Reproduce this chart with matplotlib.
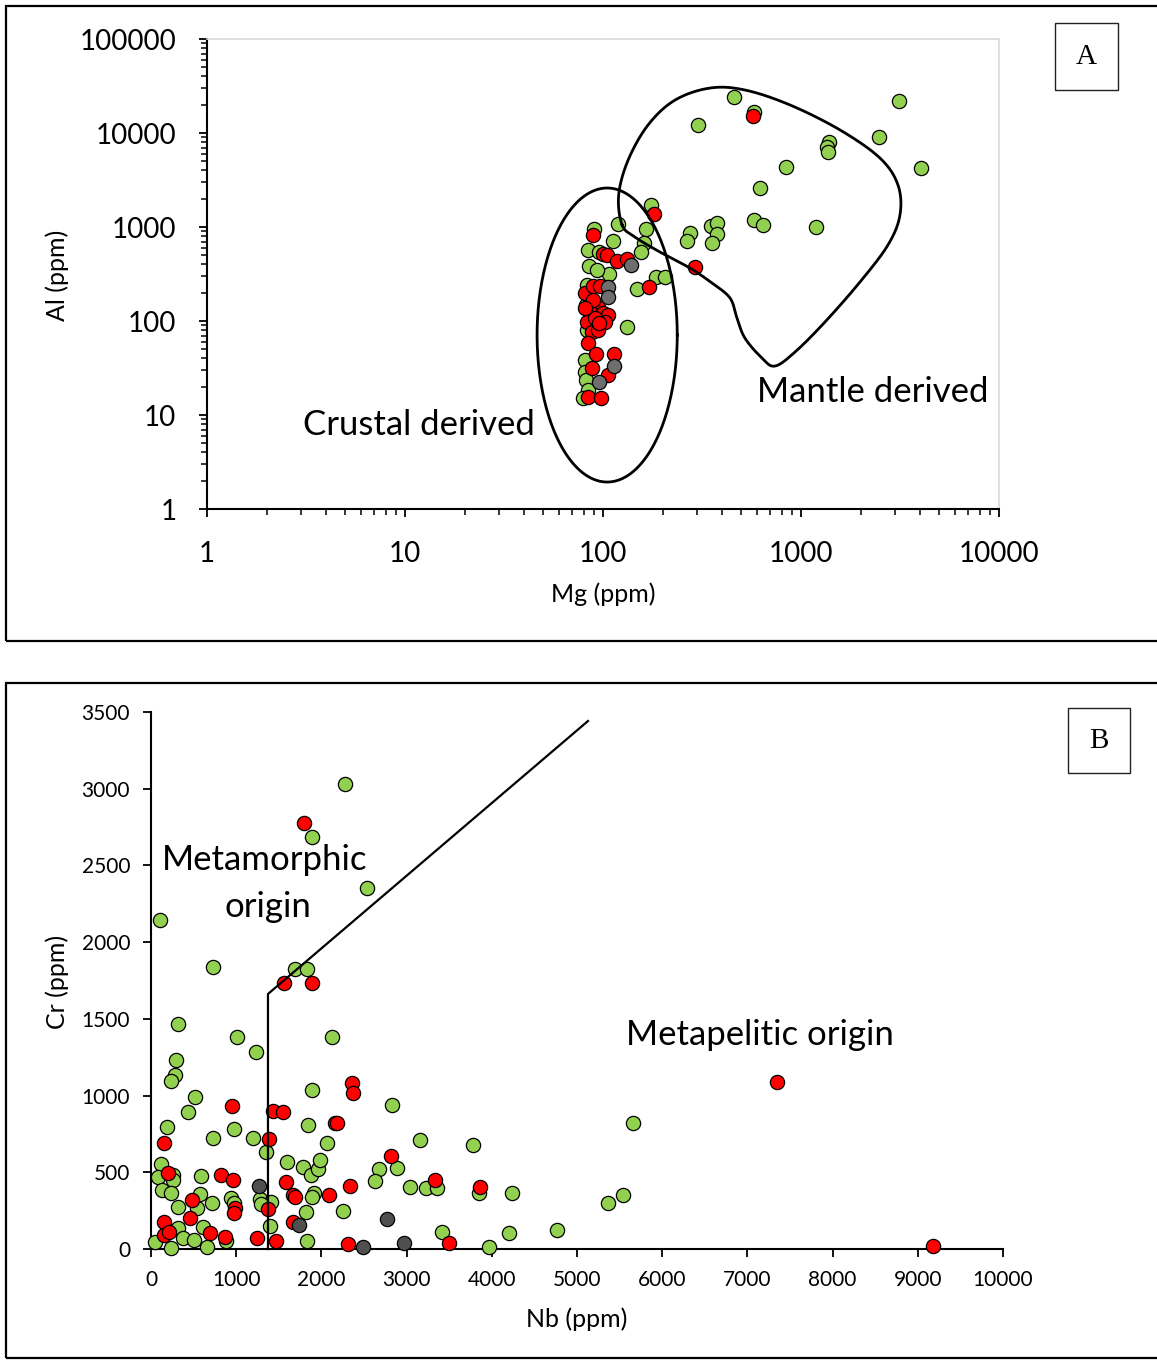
import numpy as np
import matplotlib
matplotlib.use("Agg")
import matplotlib.pyplot as plt
from matplotlib.patches import Rectangle
from matplotlib.ticker import LogLocator, NullFormatter, FixedLocator, FixedFormatter

plt.rcParams['font.family'] = ['Lato', 'DejaVu Sans']

GREEN = '#92d050'
RED = '#ff0000'
GREY_A = '#6e6e6e'
GREY_B = '#4f4f4f'

# ---------------- Panel A: Mg vs Al (ppm), log-log ----------------
a_green_mg = [460, 579, 302, 3126, 2477, 1378, 1350, 1364, 4036, 840, 619, 579, 643,
              1186, 174, 119, 164, 112, 161, 156, 275, 266, 351, 376, 376, 355, 107,
              185, 206, 148, 132, 90, 84, 95.5, 85, 93, 83, 81, 81, 82, 84, 79, 83, 82]
a_green_al = [24150, 16700, 12170, 21900, 9070, 7990, 7060, 6290, 4245, 4350, 2590, 1198,
              1050, 1000, 1714, 1076, 952, 710, 676, 542, 863, 710, 1025, 1103, 843, 676,
              316, 294, 294, 219, 86, 952, 570, 542, 385, 348, 240, 38.5, 28.7, 23.5,
              18.5, 15.2, 80, 147]

a_red_mg = [575, 181, 89, 100, 105, 118, 132, 292, 171, 81, 89, 96.5, 94, 86, 100, 106,
            102, 83, 88, 94, 84, 92, 114, 106, 88, 84, 98, 91, 96, 89, 81]
a_red_al = [15160, 1370, 822, 516, 507, 435, 457, 375, 230, 199, 235, 235, 141, 124, 121,
            116, 98, 98, 76, 80, 58, 44.6, 44.6, 26.6, 31.6, 15.5, 15.2, 108, 95, 167, 137]

a_grey_mg = [138, 106, 106, 114, 95.5]
a_grey_al = [394, 230, 180, 33, 22.4]

# Mantle-derived field outline (Mg, Al in ppm)
mantle_mg = [125, 120, 134, 169, 231, 347, 521, 880, 1573, 2506, 3090, 3162, 2750, 1986,
             1322, 933, 739, 635, 521, 475, 438, 355, 275, 194, 145]
mantle_al = [1050, 2190, 5160, 12200, 22400, 30100, 28700, 19900, 10800, 5420, 2800,
             1342, 644, 260, 97.6, 46.8, 33.2, 40.4, 65.9, 108, 176, 254, 366, 542, 783]

# Crustal-derived field: ellipse in log space
crust_center = (105, 71)
crust_half_decades = (0.354, 1.564)

# ---------------- Panel B: Nb vs Cr (ppm) ----------------
b_green_nb = [2277, 1890, 2535, 106, 728, 1690, 1831, 317, 1009, 1232, 2124, 293, 282, 235,
              1890, 2829, 516, 434, 1843, 188, 2066, 3157, 3779, 728, 974, 1197, 1350, 1596,
              1784, 1878, 1960, 1984, 2676, 2887, 2629, 3040, 3228, 3357, 3850, 4237, 117,
              82, 258, 258, 587, 129, 235, 575, 716, 939, 974, 1279, 1408, 1291, 1913, 1890,
              1819, 2253, 317, 540, 317, 610, 880, 47, 235, 376, 505, 657, 1397, 1831, 3415,
              3967, 4202, 4765, 5657, 5364, 5540]
b_green_cr = [3031, 2685, 2353, 2144, 1838, 1825, 1825, 1467, 1382, 1284, 1382, 1232, 1134,
              1095, 1036, 939, 991, 893, 808, 795, 691, 710, 678, 724, 782, 724, 632, 567,
              534, 482, 521, 580, 521, 528, 443, 404, 398, 398, 365, 365, 554, 469, 482, 450,
              476, 385, 365, 358, 300, 332, 300, 326, 306, 293, 365, 339, 241, 248, 274, 267,
              137, 143, 52, 46, 7, 72, 59, 13, 150, 52, 111, 13, 104, 124, 821, 300, 352]

b_red_nb = [1796, 1561, 1890, 2359, 2371, 951, 1432, 1549, 2160, 2183, 153, 1385, 2817, 3333,
            3861, 200, 822, 962, 481, 986, 974, 1373, 1584, 1667, 1690, 2089, 2336, 458, 153,
            153, 211, 692, 869, 1667, 1244, 1467, 3498, 2312, 7347, 9178]
b_red_cr = [2777, 1734, 1734, 1082, 1017, 932, 900, 893, 821, 821, 691, 717, 606, 450, 404,
            495, 482, 450, 319, 267, 235, 261, 437, 352, 339, 352, 411, 202, 176, 91, 111, 104,
            78, 176, 72, 52, 39, 33, 1088, 20]

b_grey_nb = [1268, 1737, 2770, 2488, 2969]
b_grey_cr = [411, 156, 196, 13, 39]

# Metamorphic / metapelitic boundary
bound_nb = [1373, 1373, 5129]
bound_cr = [0, 1662, 3441]


def closed_spline(lx, ly, n=40):
    pts = np.column_stack([lx, ly])
    m = len(pts)
    t = np.linspace(0, 1, n, endpoint=False)[:, None]
    segs = []
    for i in range(m):
        p0, p1, p2, p3 = pts[(i - 1) % m], pts[i], pts[(i + 1) % m], pts[(i + 2) % m]
        segs.append(0.5 * (2 * p1 + (-p0 + p2) * t + (2 * p0 - 5 * p1 + 4 * p2 - p3) * t ** 2
                           + (-p0 + 3 * p1 - 3 * p2 + p3) * t ** 3))
    segs.append(pts[:1])
    return np.vstack(segs)


fig = plt.figure(figsize=(11.57, 13.60), dpi=100)

# Panel frames and letter boxes
for (y0, y1) in [(0.5287, 0.9956), (0.0015, 0.4978)]:
    fig.patches.append(Rectangle((0.0052, y0), 1.2, y1 - y0, transform=fig.transFigure,
                                 fill=False, edgecolor='black', linewidth=1.6))
for (x0, y0, w, h, letter) in [(0.9118, 0.9338, 0.0545, 0.0493, 'A'),
                               (0.9231, 0.4316, 0.0536, 0.0478, 'B')]:
    fig.patches.append(Rectangle((x0, y0), w, h, transform=fig.transFigure, fill=False,
                                 edgecolor='#222222', linewidth=1.0))
    fig.text(x0 + w / 2, y0 + h / 2, letter, ha='center', va='center', fontsize=21,
             family=['Liberation Serif', 'DejaVu Serif'])

mk = dict(s=105, edgecolors='black', linewidths=0.9)
LABEL_FS = 25
AXIS_FS = 18

# ----- Panel A -----
axA = fig.add_axes([0.1789, 0.6257, 0.6845, 0.3456])
axA.set_xscale('log')
axA.set_yscale('log')
axA.set_xlim(1, 10000)
axA.set_ylim(1, 100000)
axA.scatter(a_green_mg, a_green_al, color=GREEN, zorder=3, **mk)
axA.scatter(a_red_mg, a_red_al, color=RED, zorder=4, **mk)
axA.scatter(a_grey_mg, a_grey_al, color=GREY_A, zorder=5, **mk)

curve = closed_spline(np.log10(mantle_mg), np.log10(mantle_al))
axA.plot(10 ** curve[:, 0], 10 ** curve[:, 1], color='black', lw=2.0, zorder=6)
th = np.linspace(0, 2 * np.pi, 300)
ex = np.log10(crust_center[0]) + crust_half_decades[0] * np.cos(th)
ey = np.log10(crust_center[1]) + crust_half_decades[1] * np.sin(th)
axA.plot(10 ** ex, 10 ** ey, color='black', lw=2.0, zorder=6)

axA.text(11.77, 7.83, 'Crustal derived', ha='center', va='center', fontsize=LABEL_FS)
axA.text(2311, 17.6, 'Mantle derived', ha='center', va='center', fontsize=LABEL_FS)

for side in ['top', 'right']:
    axA.spines[side].set_color('#d9d9d9')
    axA.spines[side].set_linewidth(1.2)
for side in ['left', 'bottom']:
    axA.spines[side].set_linewidth(1.5)
axA.xaxis.set_major_locator(FixedLocator([1, 10, 100, 1000, 10000]))
axA.xaxis.set_major_formatter(FixedFormatter(['1', '10', '100', '1000', '10000']))
axA.yaxis.set_major_locator(FixedLocator([1, 10, 100, 1000, 10000, 100000]))
axA.yaxis.set_major_formatter(FixedFormatter(['1', '10', '100', '1000', '10000', '100000']))
axA.xaxis.set_minor_locator(LogLocator(base=10, subs=np.arange(2, 10), numticks=20))
axA.yaxis.set_minor_locator(LogLocator(base=10, subs=np.arange(2, 10), numticks=20))
axA.xaxis.set_minor_formatter(NullFormatter())
axA.yaxis.set_minor_formatter(NullFormatter())
axA.tick_params(which='major', direction='out', length=6, width=1.3, labelsize=20)
axA.tick_params(which='minor', direction='out', length=4, width=1.1)
axA.tick_params(axis='y', which='major', pad=16)
axA.tick_params(axis='x', which='major', pad=17)
axA.tick_params(top=False, right=False, which='both')

fig.text(57 / 1157, 1 - 275 / 1360, 'Al (ppm)', rotation=90, ha='center', va='center',
         fontsize=AXIS_FS)
fig.text(603 / 1157, 1 - 594 / 1360, 'Mg (ppm)', ha='center', va='center', fontsize=AXIS_FS)

# ----- Panel B -----
axB = fig.add_axes([0.1305, 0.0816, 0.7364, 0.3949])
axB.set_xlim(0, 10000)
axB.set_ylim(0, 3500)
axB.scatter(b_green_nb, b_green_cr, color=GREEN, zorder=3, clip_on=False, **mk)
axB.scatter(b_red_nb, b_red_cr, color=RED, zorder=4, clip_on=False, **mk)
axB.scatter(b_grey_nb, b_grey_cr, color=GREY_B, zorder=5, clip_on=False, **mk)
axB.plot(bound_nb, bound_cr, color='black', lw=1.6, zorder=6, clip_on=False)

axB.text(1338, 2535, 'Metamorphic', ha='center', va='center', fontsize=LABEL_FS)
axB.text(1370, 2229, 'origin', ha='center', va='center', fontsize=LABEL_FS)
axB.text(7148, 1395, 'Metapelitic origin', ha='center', va='center', fontsize=LABEL_FS)

for side in ['top', 'right']:
    axB.spines[side].set_visible(False)
for side in ['left', 'bottom']:
    axB.spines[side].set_linewidth(1.5)
axB.set_xticks(np.arange(0, 10001, 1000))
axB.set_yticks(np.arange(0, 3501, 500))
axB.tick_params(direction='out', length=6, width=1.3, labelsize=15, pad=9)

fig.text(57 / 1157, 1 - 982 / 1360, 'Cr (ppm)', rotation=90, ha='center', va='center',
         fontsize=AXIS_FS)
fig.text(577 / 1157, 1 - 1319 / 1360, 'Nb (ppm)', ha='center', va='center', fontsize=AXIS_FS)

fig.savefig('out.png', dpi=100)
